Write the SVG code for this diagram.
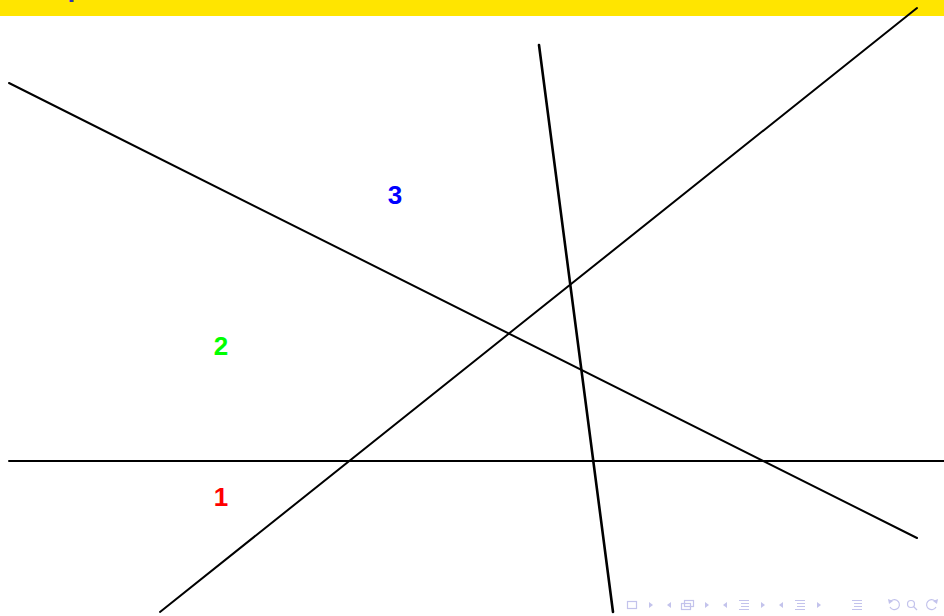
<svg xmlns="http://www.w3.org/2000/svg" width="944" height="616" viewBox="0 0 944 616">
<style>
.ln{stroke:#000;stroke-width:2;fill:none;stroke-linecap:round}
.lbl{font-family:"Liberation Sans",Arial,sans-serif;font-weight:bold;font-size:26px;text-anchor:middle}
.nav{fill:none;stroke:#c3c3ec;stroke-width:1.2}
.navf{fill:#c3c3ec}
</style>
<defs>
<clipPath id="bar"><rect x="0" y="0" width="944" height="16"/></clipPath>
</defs>
<rect x="0" y="0" width="944" height="16" fill="#ffe500"/>
<g clip-path="url(#bar)">
<text x="76" y="-4" font-family="Liberation Sans,Arial,sans-serif" font-weight="bold" font-size="28" fill="#3333b2" text-anchor="middle">p</text>
</g>
<g id="connectors">
<line class="ln" x1="9" y1="461" x2="944" y2="461"/>
<line class="ln" x1="9" y1="83" x2="917" y2="538"/>
<line class="ln" x1="160" y1="612" x2="917" y2="8"/>
<line class="ln" x1="539" y1="45" x2="613" y2="612" style="stroke-width:2.6"/>
</g>
<g id="region1"><text class="lbl" x="221" y="506" fill="#ff0000">1</text></g>
<g id="region2"><text class="lbl" x="221" y="355" fill="#00ff00">2</text></g>
<g id="region3"><text class="lbl" x="395" y="204" fill="#0000ff">3</text></g>
<g id="navigation">
<rect class="nav" x="627.5" y="601.5" width="9" height="7"/>
<path class="navf" d="M649 602 L653 605 L649 608 Z"/>
<path class="navf" d="M671 602 L667 605 L671 608 Z"/>
<rect class="nav" x="681.5" y="603.5" width="9" height="6"/>
<rect class="nav" x="684.5" y="600.5" width="9" height="6" fill="#fff"/>
<path class="navf" d="M705 602 L709 605 L705 608 Z"/>
<path class="navf" d="M727 602 L723 605 L727 608 Z"/>
<path class="nav" d="M739 600.5 H749 M741 603.5 H749 M741 606.5 H749 M739 609.5 H749"/>
<path class="navf" d="M761 602 L765 605 L761 608 Z"/>
<path class="navf" d="M783 602 L779 605 L783 608 Z"/>
<path class="nav" d="M795 600.5 H805 M797 603.5 H805 M797 606.5 H805 M795 609.5 H805"/>
<path class="navf" d="M817 602 L821 605 L817 608 Z"/>
<path class="nav" d="M852 600.5 H862 M854 603.5 H862 M854 606.5 H862 M852 609.5 H862"/>
<path class="nav" d="M891 601 A5 5 0 1 1 890 607"/>
<path class="navf" d="M888 599 L893 601 L889 604 Z"/>
<circle class="nav" cx="911" cy="604" r="3.5"/>
<path class="nav" d="M913.5 606.5 L917 610"/>
<path class="nav" d="M935 601 A5 5 0 1 0 936 607"/>
<path class="navf" d="M938 599 L933 601 L937 604 Z"/>
</g>
</svg>
